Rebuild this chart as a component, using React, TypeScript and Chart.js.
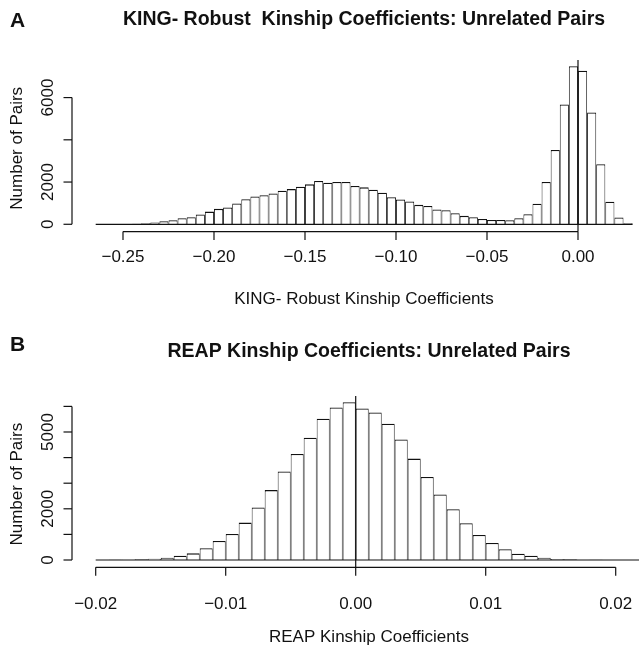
import React, { useEffect, useRef } from "react";
import { Chart, registerables } from "chart.js";

Chart.register(...registerables);

// ---------- Panel A data: KING-Robust kinship coefficients ----------
const kingBinWidth = 0.005;
const kingBinStarts = [
  -0.265, -0.26, -0.255, -0.25, -0.245, -0.24, -0.235, -0.23, -0.225, -0.22,
  -0.215, -0.21, -0.205, -0.2, -0.195, -0.19, -0.185, -0.18, -0.175, -0.17,
  -0.165, -0.16, -0.155, -0.15, -0.145, -0.14, -0.135, -0.13, -0.125, -0.12,
  -0.115, -0.11, -0.105, -0.1, -0.095, -0.09, -0.085, -0.08, -0.075, -0.07,
  -0.065, -0.06, -0.055, -0.05, -0.045, -0.04, -0.035, -0.03, -0.025, -0.02,
  -0.015, -0.01, -0.005, 0, 0.005, 0.01, 0.015, 0.02, 0.025,
];
const kingCounts = [
  2, 4, 8, 15, 30, 48, 80, 143, 190, 285,
  333, 460, 600, 730, 795, 985, 1190, 1320, 1380, 1460,
  1590, 1665, 1780, 1890, 2050, 1970, 2000, 2000, 1810, 1750,
  1635, 1490, 1285, 1175, 1080, 920, 870, 700, 665, 525,
  400, 333, 255, 205, 205, 190, 285, 475, 970, 2000,
  3520, 5670, 7480, 7270, 5290, 2840, 1065, 320, 50,
];
const kingXTicks = [-0.25, -0.2, -0.15, -0.1, -0.05, 0];
const kingXTickLabels = ["\u22120.25", "\u22120.20", "\u22120.15", "\u22120.10", "\u22120.05", "0.00"];
const kingYTicks = [0, 2000, 4000, 6000];
const kingYTickLabels = ["0", "2000", "", "6000"];
const kingXRange = [-0.27747, 0.033516];
const kingYRange = [-299, 7779];

// ---------- Panel B data: REAP kinship coefficients ----------
const reapBinWidth = 0.001;
const reapBinStarts = [
  -0.02, -0.019, -0.018, -0.017, -0.016, -0.015, -0.014, -0.013, -0.012, -0.011,
  -0.01, -0.009, -0.008, -0.007, -0.006, -0.005, -0.004, -0.003, -0.002, -0.001,
  0, 0.001, 0.002, 0.003, 0.004, 0.005, 0.006, 0.007, 0.008, 0.009,
  0.01, 0.011, 0.012, 0.013, 0.014, 0.015, 0.016, 0.017, 0.018, 0.019,
  0.02, 0.021,
];
const reapCounts = [
  3, 6, 12, 26, 52, 90, 170, 260, 460, 745,
  1020, 1460, 2050, 2730, 3460, 4140, 4780, 5515, 5960, 6160,
  5920, 5760, 5320, 4705, 3960, 3240, 2560, 1985, 1440, 980,
  667, 420, 248, 170, 90, 40, 25, 12, 6, 3,
  1, 1,
];
const reapXTicks = [-0.02, -0.01, 0, 0.01, 0.02];
const reapXTickLabels = ["\u22120.02", "\u22120.01", "0.00", "0.01", "0.02"];
const reapYTicks = [0, 1000, 2000, 3000, 4000, 5000, 6000];
const reapYTickLabels = ["0", "", "2000", "", "", "5000", ""];
const reapXRange = [-0.021746, 0.021792];
const reapYRange = [-246, 6406];

const FONT = '"Liberation Sans", Arial, Helvetica, sans-serif';
const INK = "#111111";
const W = 639;
const H = 324;

type PanelSpec = {
  letter: string;
  title: string;
  xlab: string;
  ylab: string;
  binWidth: number;
  starts: number[];
  counts: number[];
  xTicks: number[];
  xTickLabels: string[];
  yTicks: number[];
  yTickLabels: string[];
  xRange: number[];
  yRange: number[];
  padding: { top: number; bottom: number; left: number; right: number };
  letterY: number;
  titleX: number;
  titleY: number;
  tickLabelY: number;
  xlabY: number;
};

const panelA: PanelSpec = {
  letter: "A",
  title: "KING- Robust  Kinship Coefficients: Unrelated Pairs",
  xlab: "KING- Robust Kinship Coefficients",
  ylab: "Number of Pairs",
  binWidth: kingBinWidth,
  starts: kingBinStarts,
  counts: kingCounts,
  xTicks: kingXTicks,
  xTickLabels: kingXTickLabels,
  yTicks: kingYTicks,
  yTickLabels: kingYTickLabels,
  xRange: kingXRange,
  yRange: kingYRange,
  padding: { top: 60, bottom: 93.4, left: 73, right: 0 },
  letterY: 21,
  titleX: 364,
  titleY: 20,
  tickLabelY: 257,
  xlabY: 299,
};

const panelB: PanelSpec = {
  letter: "B",
  title: "REAP Kinship Coefficients: Unrelated Pairs",
  xlab: "REAP Kinship Coefficients",
  ylab: "Number of Pairs",
  binWidth: reapBinWidth,
  starts: reapBinStarts,
  counts: reapCounts,
  xTicks: reapXTicks,
  xTickLabels: reapXTickLabels,
  yTicks: reapYTicks,
  yTickLabels: reapYTickLabels,
  xRange: reapXRange,
  yRange: reapYRange,
  padding: { top: 72, bottom: 81.7, left: 73, right: 0 },
  letterY: 21,
  titleX: 369,
  titleY: 28,
  tickLabelY: 280,
  xlabY: 313,
};

function rAxesPlugin(spec: PanelSpec) {
  return {
    id: "rAxes" + spec.letter,
    afterDraw(chart: any) {
      const ctx: CanvasRenderingContext2D = chart.ctx;
      const xs = chart.scales.x;
      const ys = chart.scales.y;
      const area = chart.chartArea;
      ctx.save();
      ctx.strokeStyle = INK;
      ctx.fillStyle = INK;
      ctx.lineWidth = 1.2;
      const seg = (x1: number, y1: number, x2: number, y2: number) => {
        ctx.beginPath();
        ctx.moveTo(x1, y1);
        ctx.lineTo(x2, y2);
        ctx.stroke();
      };
      // histogram baseline (bottom edges of the rectangles)
      const y0 = ys.getPixelForValue(0);
      const last = spec.starts.length - 1;
      seg(
        xs.getPixelForValue(spec.starts[0]),
        y0,
        xs.getPixelForValue(spec.starts[last] + spec.binWidth),
        y0
      );
      // x axis
      const axY = area.bottom + 1;
      const tickLen = 8.5;
      seg(
        xs.getPixelForValue(spec.xTicks[0]),
        axY,
        xs.getPixelForValue(spec.xTicks[spec.xTicks.length - 1]),
        axY
      );
      // reference line at zero
      const xZero = xs.getPixelForValue(0);
      seg(xZero, area.top, xZero, axY);
      ctx.font = `17px ${FONT}`;
      ctx.textAlign = "center";
      ctx.textBaseline = "middle";
      spec.xTicks.forEach((t, i) => {
        const px = xs.getPixelForValue(t);
        seg(px, axY, px, axY + tickLen);
        ctx.fillText(spec.xTickLabels[i], px, spec.tickLabelY);
      });
      // y axis
      const axX = area.left - 1;
      seg(
        axX,
        ys.getPixelForValue(spec.yTicks[0]),
        axX,
        ys.getPixelForValue(spec.yTicks[spec.yTicks.length - 1])
      );
      spec.yTicks.forEach((t, i) => {
        const py = ys.getPixelForValue(t);
        seg(axX, py, axX - tickLen, py);
        const lab = spec.yTickLabels[i];
        if (lab) {
          ctx.save();
          ctx.translate(48, py);
          ctx.rotate(-Math.PI / 2);
          ctx.fillText(lab, 0, 0);
          ctx.restore();
        }
      });
      // axis titles
      ctx.fillText(spec.xlab, spec.titleX, spec.xlabY);
      ctx.save();
      ctx.translate(17, (area.top + area.bottom) / 2 + 3);
      ctx.rotate(-Math.PI / 2);
      ctx.fillText(spec.ylab, 0, 0);
      ctx.restore();
      // main title and panel letter
      ctx.font = `bold 19.5px ${FONT}`;
      ctx.fillText(spec.title, spec.titleX, spec.titleY);
      ctx.font = `bold 21px ${FONT}`;
      ctx.textAlign = "left";
      ctx.fillText(spec.letter, 10, spec.letterY);
      ctx.restore();
    },
  };
}

function Panel({ spec, top }: { spec: PanelSpec; top: number }) {
  const ref = useRef<HTMLCanvasElement | null>(null);
  useEffect(() => {
    if (!ref.current) return;
    const last = spec.counts.length - 1;
    const chart = new Chart(ref.current, {
      type: "bar",
      data: {
        datasets: [
          {
            data: spec.starts.map((s, i) => ({ x: s + spec.binWidth / 2, y: spec.counts[i] })),
            backgroundColor: "#ffffff",
            borderColor: INK,
            borderWidth: (c: any) => ({
              top: 1.3,
              left: c.dataIndex === 0 ? 1.1 : 0.9,
              right: c.dataIndex === last ? 1.1 : 0.9,
              bottom: 0,
            }),
            borderSkipped: false,
            barPercentage: 1,
            categoryPercentage: 1,
            inflateAmount: 0,
          } as any,
        ],
      },
      options: {
        animation: false,
        responsive: false,
        devicePixelRatio: 1,
        events: [],
        layout: { padding: spec.padding },
        plugins: { legend: { display: false }, tooltip: { enabled: false } },
        scales: {
          x: {
            type: "linear",
            min: spec.xRange[0],
            max: spec.xRange[1],
            offset: false,
            grace: 0,
            display: false,
          },
          y: {
            type: "linear",
            min: spec.yRange[0],
            max: spec.yRange[1],
            grace: 0,
            display: false,
          },
        },
      } as any,
      plugins: [rAxesPlugin(spec)],
    });
    return () => chart.destroy();
  }, [spec]);
  return (
    <canvas
      ref={ref}
      width={W}
      height={H}
      style={{ position: "absolute", left: 0, top, width: W, height: H, display: "block" }}
    />
  );
}

export default function App() {
  return (
    <div
      style={{
        position: "fixed",
        left: 0,
        top: 0,
        width: W,
        height: 648,
        background: "#ffffff",
        overflow: "hidden",
      }}
    >
      <Panel spec={panelA} top={0} />
      <Panel spec={panelB} top={324} />
    </div>
  );
}
